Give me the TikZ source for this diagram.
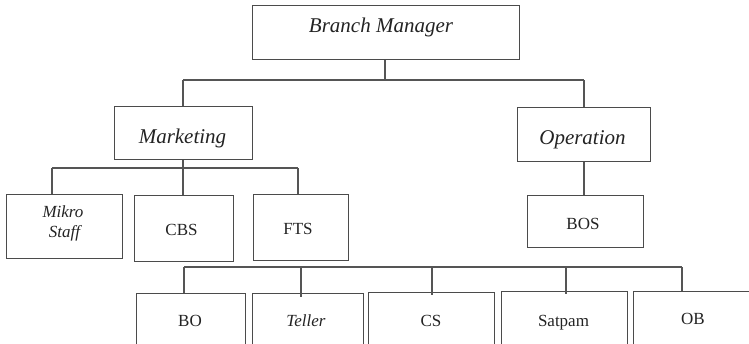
\documentclass[tikz,border=0pt]{standalone}
\usepackage{fontspec}
\setmainfont{Liberation Serif}
\definecolor{ln}{RGB}{85,85,85}
\definecolor{bx}{RGB}{75,75,75}
\definecolor{tx}{RGB}{35,35,35}
\begin{document}
\begin{tikzpicture}[x=1pt,y=-1pt,
  box/.style={draw=bx,line width=1pt,inner sep=0pt},
  conn/.style={draw=ln,line width=1.1pt},
  big/.style={anchor=base,inner sep=0pt,text=tx,font=\fontsize{21}{25}\selectfont\itshape},
  small/.style={anchor=base,inner sep=0pt,text=tx,font=\fontsize{17}{20}\selectfont},
  smalli/.style={anchor=base,inner sep=0pt,text=tx,font=\fontsize{17}{20}\selectfont\itshape}]
\clip (0,0) rectangle (749,343);
\fill[white] (0,0) rectangle (749,343);
% boxes
\node[box,minimum width=267pt,minimum height=54pt] (bm) at (385.5,32) {};
\node[box,minimum width=138pt,minimum height=53pt] (mk) at (183,132.5) {};
\node[box,minimum width=133pt,minimum height=54pt] (op) at (583.5,134) {};
\node[box,minimum width=116pt,minimum height=64pt] (ms) at (64,226) {};
\node[box,minimum width=99pt,minimum height=66pt] (cbs) at (183.5,228) {};
\node[box,minimum width=95pt,minimum height=66pt] (fts) at (300.5,227) {};
\node[box,minimum width=116pt,minimum height=52pt] (bos) at (585,221) {};
\node[box,minimum width=109pt,minimum height=57pt] (bo) at (190.5,321.5) {};
\node[box,minimum width=111pt,minimum height=57pt] (te) at (307.5,321.5) {};
\node[box,minimum width=126pt,minimum height=58pt] (cs) at (431,321) {};
\node[box,minimum width=126pt,minimum height=59pt] (sp) at (564,320.5) {};
\node[box,minimum width=127pt,minimum height=59pt] (ob) at (696.5,320.5) {};
% texts
\node[big] (tbm) at (381,32) {Branch Manager};
\node[big] (tmk) at (182.5,143) {Marketing};
\node[big] (top) at (582.5,144) {Operation};
\node[smalli] (tms1) at (63,217) {Mikro};
\node[smalli] (tms2) at (64.5,237) {Staff};
\node[small] (tcbs) at (181.5,235) {CBS};
\node[small] (tfts) at (298,234) {FTS};
\node[small] (tbos) at (583,229) {BOS};
\node[small] (tbo) at (190,326) {BO};
\node[smalli] (tte) at (306,326) {Teller};
\node[small] (tcs) at (431,326) {CS};
\node[small] (tsp) at (563.5,326) {Satpam};
\node[small] (tob) at (693,324) {OB};
% level 1
\coordinate (j1) at (385,80);
\coordinate (jl) at (183,80);
\coordinate (jr) at (584,80);
\draw[conn] (j1) -- (j1 |- bm.south);
\draw[conn] (jl) -- (jr);
\draw[conn] (jl) -- (jl |- mk.north);
\draw[conn] (jr) -- (jr |- op.north);
% marketing bus
\coordinate (ma) at (52,168);
\coordinate (mc) at (183,168);
\coordinate (mb) at (298,168);
\draw[conn] (ma) -- (mb);
\draw[conn] (mc) -- (mc |- mk.south);
\draw[conn] (ma) -- (ma |- ms.north);
\draw[conn] (mc) -- (mc |- cbs.north);
\draw[conn] (mb) -- (mb |- fts.north);
% operation
\coordinate (oc) at (584,161);
\draw[conn] (oc |- op.south) -- (oc |- bos.north);
% bottom bus
\coordinate (b1) at (184,267);
\coordinate (b2) at (301,267);
\coordinate (b3) at (432,267);
\coordinate (b4) at (566,267);
\coordinate (b5) at (682,267);
\draw[conn] (b1) -- (b5);
\draw[conn] (b1) -- (b1 |- bo.north);
\draw[conn] (b2) -- ([yshift=-4pt]b2 |- te.north);
\draw[conn] (b3) -- ([yshift=-3pt]b3 |- cs.north);
\draw[conn] (b4) -- ([yshift=-3pt]b4 |- sp.north);
\draw[conn] (b5) -- (b5 |- ob.north);
\end{tikzpicture}
\end{document}
